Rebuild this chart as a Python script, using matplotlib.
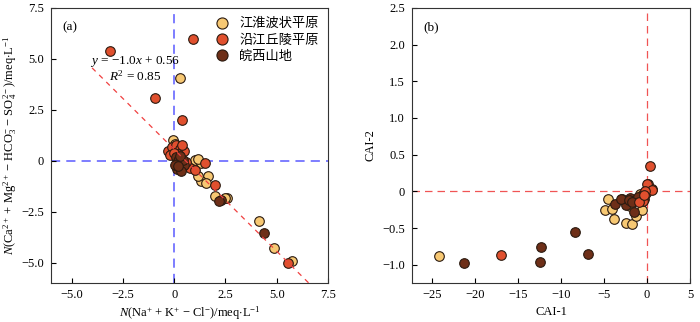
import matplotlib
matplotlib.use("Agg")
import matplotlib.pyplot as plt
import numpy as np
from matplotlib.lines import Line2D

plt.rcParams['font.family'] = ['Liberation Serif', 'Noto Sans CJK SC', 'DejaVu Sans']
plt.rcParams['mathtext.fontset'] = 'custom'
plt.rcParams['mathtext.rm'] = 'Liberation Serif'
plt.rcParams['mathtext.it'] = 'Liberation Serif:italic'
plt.rcParams['axes.unicode_minus'] = True

# ---------------- data ----------------
groups = ['江淮波状平原', '沿江丘陵平原', '皖西山地']
colors = ['#F7C873', '#E0502E', '#6E2F18']

# panel (a)
tan_x = [0.29, -0.07, 1.0, 1.3, 1.15, 1.64, 1.32, 1.15, 1.55, 1.97, 2.59, 2.5, 4.13, 4.89, 5.76, 0.1, 0.2, 0.6, 0.45, 0.05]
tan_y = [4.07, 1.03, 0.05, -0.1, 0.1, -0.74, -1.01, -0.77, -1.1, -1.75, -1.83, -1.85, -2.96, -4.28, -4.92, 0.6, 0.3, -0.2, 0.0, 0.8]
red_x = [-3.12, 0.91, -0.91, 0.37, 0.75, 1.0, 1.48, 1.97, 5.55, -0.3, -0.1, 0.1, 0.3, 0.5, 0.2, -0.2, 0.0, 0.4, 0.6, 0.15]
red_y = [5.39, 6.0, 3.10, 1.98, -0.36, -0.44, -0.1, -1.18, -5.0, 0.5, 0.7, 0.78, 0.6, 0.5, 0.35, 0.3, 0.4, 0.75, -0.05, 0.1]
brown_x = [2.26, 2.2, 4.36, 0.1, 0.2, 0.3, 0.4, 0.5, 0.15, 0.25, 0.35, 0.05, 0.45, 0.3, 0.2]
brown_y = [-1.91, -1.96, -3.53, 0.2, 0.0, -0.1, -0.3, -0.2, -0.4, 0.1, -0.5, -0.2, 0.05, 0.25, -0.25]

reg_slope = -1.0
reg_intercept = 0.56
reg_x = [-4.0, 6.56]

# panel (b)
tan2_x = [-24.15, -4.47, -4.82, -4.1, -3.78, -2.47, -1.77, -1.98, -1.3, -0.6, -0.85, -2.0, -1.0]
tan2_y = [-0.88, -0.11, -0.26, -0.24, -0.38, -0.43, -0.44, -0.19, -0.33, -0.25, -0.04, -0.2, -0.1]
red2_x = [-17.0, 0.39, 0.12, 0.58, -0.08, -0.5, 0.04, 0.6, -0.93, -0.23, -0.3]
red2_y = [-0.87, 0.35, 0.1, 0.03, -0.02, -0.13, 0.1, 0.02, -0.15, 0.0, -0.05]
brown2_x = [-21.26, -12.27, -12.38, -8.37, -6.83, -3.7, -2.93, -2.47, -2.0, -1.5, -3.05, -2.08, -1.3, -0.35, -0.6, -1.0, -1.7]
brown2_y = [-0.98, -0.76, -0.96, -0.55, -0.85, -0.17, -0.1, -0.18, -0.09, -0.28, -0.11, -0.12, -0.12, -0.1, -0.05, -0.08, -0.15]

xticks_a = [-5.0, -2.5, 0, 2.5, 5.0, 7.5]
yticks_a = [-5.0, -2.5, 0, 2.5, 5.0, 7.5]
xticks_b = [-25, -20, -15, -10, -5, 0, 5]
yticks_b = [-1.0, -0.5, 0, 0.5, 1.0, 1.5, 2.0, 2.5]


def fmt1(v):
    if v == 0:
        return '0'
    return ('%.1f' % v).replace('-', '\u2212')


def fmt0(v):
    if v == 0:
        return '0'
    return ('%d' % v).replace('-', '\u2212')


fig = plt.figure(figsize=(7.0, 3.22), dpi=100)
ax1 = fig.add_axes([0.0729, 0.1211, 0.3957, 0.8541])
ax2 = fig.add_axes([0.5886, 0.1211, 0.3971, 0.8541])

FS = 9
sc_kw = dict(s=48, edgecolors='#2a1a10', linewidths=0.8, zorder=3)

# ---- panel (a)
ax1.axvline(0, color='#5A5AFF', ls=(0, (6, 4)), lw=1.1, zorder=1)
ax1.axhline(0, color='#5A5AFF', ls=(0, (6, 4)), lw=1.1, zorder=1)
rx = np.array(reg_x)
ax1.plot(rx, reg_slope * rx + reg_intercept, color='#F04040', ls=(0, (4, 4)), lw=0.9, zorder=4)
ax1.scatter(tan_x, tan_y, c=colors[0], **sc_kw)
ax1.scatter(red_x, red_y, c=colors[1], **sc_kw)
ax1.scatter(brown_x, brown_y, c=colors[2], **sc_kw)
ax1.set_xlim(-6, 7.5)
ax1.set_ylim(-6, 7.5)
ax1.set_xticks(xticks_a)
ax1.set_xticklabels([fmt1(v) for v in xticks_a])
ax1.set_yticks(yticks_a)
ax1.set_yticklabels([fmt1(v) for v in yticks_a])
ax1.set_xlabel(r'$N$(Na$^{+}$ + K$^{+}$ $-$ Cl$^{-}$)/meq$\cdot$L$^{-1}$', fontsize=FS, labelpad=2.5)
ax1.set_ylabel(r'$N$(Ca$^{2+}$ + Mg$^{2+}$ $-$ HCO$_3^{-}$ $-$ SO$_4^{2-}$)/meq$\cdot$L$^{-1}$', fontsize=FS, labelpad=2)
ax1.text(0.04, 0.95, '(a)', transform=ax1.transAxes, fontsize=FS + 0.5, va='top', ha='left')
ax1.text(-1.9, 4.85, r'$y$ = $-$1.0$x$ + 0.56', fontsize=FS + 0.5, ha='center', va='center', zorder=5)
ax1.text(-1.9, 4.17, r'$R^2$ = 0.85', fontsize=FS + 0.5, ha='center', va='center', zorder=5)

handles = [Line2D([], [], marker='o', ls='', markerfacecolor=c, markeredgecolor='#2a1a10',
                  markeredgewidth=0.8, markersize=8) for c in colors]
leg = ax1.legend(handles, groups, loc='upper right', frameon=False,
                 handletextpad=0.3, labelspacing=0.25, borderaxespad=0.3,
                 prop={'family': ['Noto Sans CJK SC'], 'size': 9.5})

# ---- panel (b)
ax2.axvline(0, color='#F05555', ls=(0, (6, 4)), lw=0.9, zorder=1)
ax2.axhline(0, color='#F05555', ls=(0, (6, 4)), lw=0.9, zorder=1)
ax2.scatter(tan2_x, tan2_y, c=colors[0], **sc_kw)
ax2.scatter(brown2_x, brown2_y, c=colors[2], **sc_kw)
ax2.scatter(red2_x, red2_y, c=colors[1], **sc_kw)
ax2.set_xlim(-27.3, 5)
ax2.set_ylim(-1.25, 2.5)
ax2.set_xticks(xticks_b)
ax2.set_xticklabels([fmt0(v) for v in xticks_b])
ax2.set_yticks(yticks_b)
ax2.set_yticklabels([fmt1(v) for v in yticks_b])
ax2.set_xlabel('CAI-1', fontsize=FS, labelpad=4)
ax2.set_ylabel('CAI-2', fontsize=FS, labelpad=4)
ax2.text(0.04, 0.95, '(b)', transform=ax2.transAxes, fontsize=FS + 0.5, va='top', ha='left')

for ax in (ax1, ax2):
    ax.tick_params(direction='in', length=3.5, width=0.8, labelsize=FS)
    ax.tick_params(axis='x', pad=4)
    ax.tick_params(axis='y', pad=5)
    for sp in ax.spines.values():
        sp.set_linewidth(0.8)
        sp.set_color('#333333')

fig.savefig('out.png', dpi=100)
